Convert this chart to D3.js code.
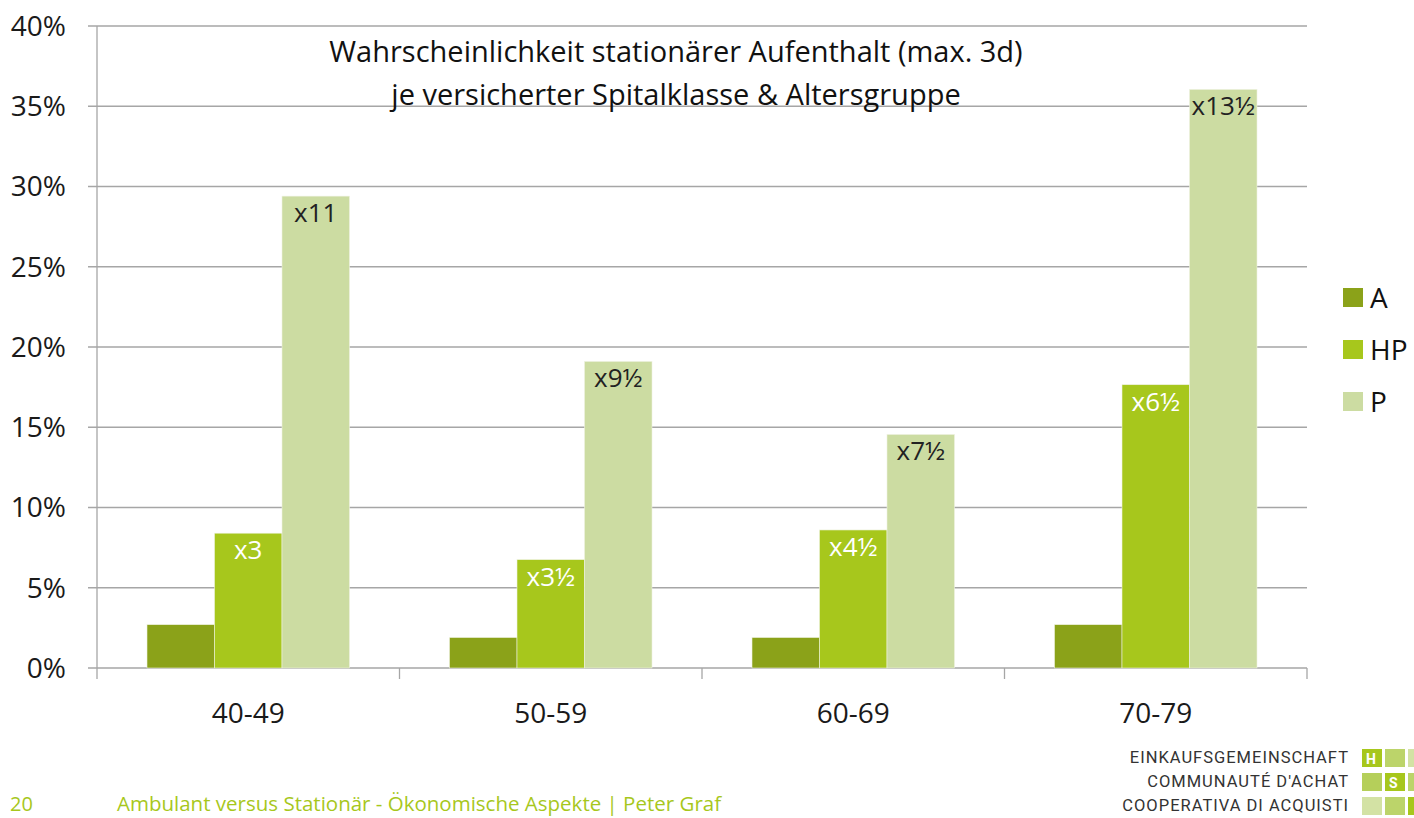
<!DOCTYPE html>
<html>
<head>
    <meta charset="utf-8">
    <title>Wahrscheinlichkeit stationärer Aufenthalt</title>
    <script src="https://d3js.org/d3.v7.min.js"></script>
    <style>
        body { margin: 0; background: #fff; }
        text { font-family: "Open Sans", sans-serif; }
    </style>
</head>

<body>
<div id="chart"></div>
<script type="text/javascript">

    // Daten
    const groups = ["40-49", "50-59", "60-69", "70-79"];
    const series = ["A", "HP", "P"];
    const valuesA  = [2.7, 1.9, 1.9, 2.7];
    const valuesHP = [8.4, 6.75, 8.6, 17.65];
    const valuesP  = [29.4, 19.1, 14.55, 36.05];
    const labelsHP = ["x3", "x3½", "x4½", "x6½"];
    const labelsP  = ["x11", "x9½", "x7½", "x13½"];
    const yTicks = [0, 5, 10, 15, 20, 25, 30, 35, 40];
    const colors = ["#8ba219", "#a7c71c", "#ccdca2"];

    const W = 1414, H = 818;
    const margin = {top: 26, right: 107, bottom: 150, left: 97};
    const w = W - margin.left - margin.right;
    const h = H - margin.top - margin.bottom;

    const svg = d3.select("#chart")
        .append("svg")
            .attr("width", W)
            .attr("height", H);

    const g = svg.append("g")
        .attr("transform", "translate(" + margin.left + "," + margin.top + ")");

    const x0 = d3.scaleBand().domain(groups).range([0, w]);
    const x1 = d3.scaleBand().domain(series).range([50, x0.bandwidth() - 50]);
    const y = d3.scaleLinear().domain([0, 40]).range([h, 0]);

    // Gitterlinien
    g.selectAll("line.grid")
        .data(yTicks)
        .enter()
        .append("line")
        .attr("class", "grid")
        .attr("x1", -9)
        .attr("x2", w)
        .attr("y1", d => y(d))
        .attr("y2", d => y(d))
        .attr("stroke", "#a6a6a6")
        .attr("stroke-width", 1.3);

    // y-Achse
    g.append("line")
        .attr("x1", 0).attr("x2", 0)
        .attr("y1", 0).attr("y2", h)
        .attr("stroke", "#a6a6a6")
        .attr("stroke-width", 1.3);

    g.selectAll("text.ytick")
        .data(yTicks)
        .enter()
        .append("text")
        .attr("class", "ytick")
        .attr("x", -31)
        .attr("y", d => y(d))
        .attr("dy", "0.35em")
        .attr("text-anchor", "end")
        .attr("font-size", "28px")
        .attr("fill", "#1a1a1a")
        .text(d => d + "%");

    // x-Achse mit Ticks an den Gruppengrenzen
    const xAxis = d3.axisBottom(x0).tickSize(0).tickPadding(0).tickFormat("");
    g.append("g")
        .attr("transform", "translate(0," + h + ")")
        .call(xAxis)
        .call(a => a.select(".domain").remove());

    const bounds = groups.map(d => x0(d)).concat([w]);
    g.selectAll("line.xtick")
        .data(bounds)
        .enter()
        .append("line")
        .attr("x1", d => d).attr("x2", d => d)
        .attr("y1", h).attr("y2", h + 11)
        .attr("stroke", "#a6a6a6")
        .attr("stroke-width", 1.3);

    g.selectAll("text.xlab")
        .data(groups)
        .enter()
        .append("text")
        .attr("x", d => x0(d) + x0.bandwidth() / 2)
        .attr("y", h + 55)
        .attr("text-anchor", "middle")
        .attr("font-size", "28px")
        .attr("fill", "#1a1a1a")
        .text(d => d);

    // Balken
    const table = groups.map((grp, i) => ({
        group: grp,
        vals: [valuesA[i], valuesHP[i], valuesP[i]],
        labels: [null, labelsHP[i], labelsP[i]]
    }));

    const grp = g.selectAll("g.group")
        .data(table)
        .enter()
        .append("g")
        .attr("transform", d => "translate(" + x0(d.group) + ",0)");

    grp.selectAll("rect")
        .data(d => series.map((s, j) => ({s: s, v: d.vals[j], label: d.labels[j], j: j})))
        .enter()
        .append("rect")
        .attr("x", d => x1(d.s))
        .attr("y", d => y(d.v))
        .attr("width", x1.bandwidth())
        .attr("height", d => h - y(d.v))
        .attr("fill", d => colors[d.j])
        .attr("stroke", "#eef2e2")
        .attr("stroke-width", 0.6);

    grp.selectAll("text.val")
        .data(d => series.map((s, j) => ({s: s, v: d.vals[j], label: d.labels[j], j: j})).filter(d => d.label))
        .enter()
        .append("text")
        .attr("x", d => x1(d.s) + x1.bandwidth() / 2)
        .attr("y", d => y(d.v) + 26)
        .attr("text-anchor", "middle")
        .attr("font-size", "26px")
        .attr("fill", d => d.j === 1 ? "#ffffff" : "#222222")
        .text(d => d.label);

    // Titel
    svg.append("text")
        .attr("x", 676).attr("y", 62)
        .attr("text-anchor", "middle")
        .attr("font-size", "29px")
        .attr("fill", "#111")
        .text("Wahrscheinlichkeit stationärer Aufenthalt (max. 3d)");
    svg.append("text")
        .attr("x", 676).attr("y", 105)
        .attr("text-anchor", "middle")
        .attr("font-size", "29px")
        .attr("fill", "#111")
        .text("je versicherter Spitalklasse & Altersgruppe");

    // Legende
    const legend = svg.selectAll("g.legend")
        .data(series)
        .enter()
        .append("g")
        .attr("transform", (d, i) => "translate(1343," + (288 + i * 52) + ")");
    legend.append("rect")
        .attr("width", 20).attr("height", 19)
        .attr("fill", (d, i) => colors[i]);
    legend.append("text")
        .attr("x", 27).attr("y", 10)
        .attr("dy", "0.35em")
        .attr("font-size", "28px")
        .attr("fill", "#111")
        .text(d => d);

    // Fusszeile
    const footColor = "#a7c71c";
    svg.append("text")
        .attr("x", 10).attr("y", 811)
        .attr("font-size", "20px")
        .attr("fill", footColor)
        .text("20");
    svg.append("text")
        .attr("x", 117).attr("y", 811)
        .attr("font-size", "20.5px")
        .attr("fill", footColor)
        .text("Ambulant versus Stationär - Ökonomische Aspekte | Peter Graf");

    // Logo
    const logoLines = ["EINKAUFSGEMEINSCHAFT", "COMMUNAUTÉ D'ACHAT", "COOPERATIVA DI ACQUISTI"];
    svg.selectAll("text.logo")
        .data(logoLines)
        .enter()
        .append("text")
        .attr("x", 1349)
        .attr("y", (d, i) => 763 + i * 24)
        .attr("text-anchor", "end")
        .attr("font-size", "16.5px")
        .attr("letter-spacing", "1px")
        .attr("fill", "#333")
        .style("font-family", "Roboto, sans-serif")
        .text(d => d);

    const logoCells = [
        ["#a7c71c", "#bcd46a", "#d3e2a4"],
        ["#b5cf5a", "#a7c71c", "#bcd46a"],
        ["#d3e2a4", "#bcd46a", "#a7c71c"]
    ];
    const logoLetters = [["H", "", ""], ["", "S", ""], ["", "", ""]];
    logoCells.forEach((row, r) => {
        row.forEach((c, k) => {
            svg.append("rect")
                .attr("x", 1362 + k * 23)
                .attr("y", 749 + r * 24)
                .attr("width", 20).attr("height", 18)
                .attr("fill", c);
            if (logoLetters[r][k]) {
                svg.append("text")
                    .attr("x", 1366 + k * 23)
                    .attr("y", 764 + r * 24)
                    .attr("font-size", "14px")
                    .attr("font-weight", "bold")
                    .attr("fill", "#fff")
                    .style("font-family", "Roboto, sans-serif")
                    .text(logoLetters[r][k]);
            }
        });
    });

</script>
</body>
</html>
